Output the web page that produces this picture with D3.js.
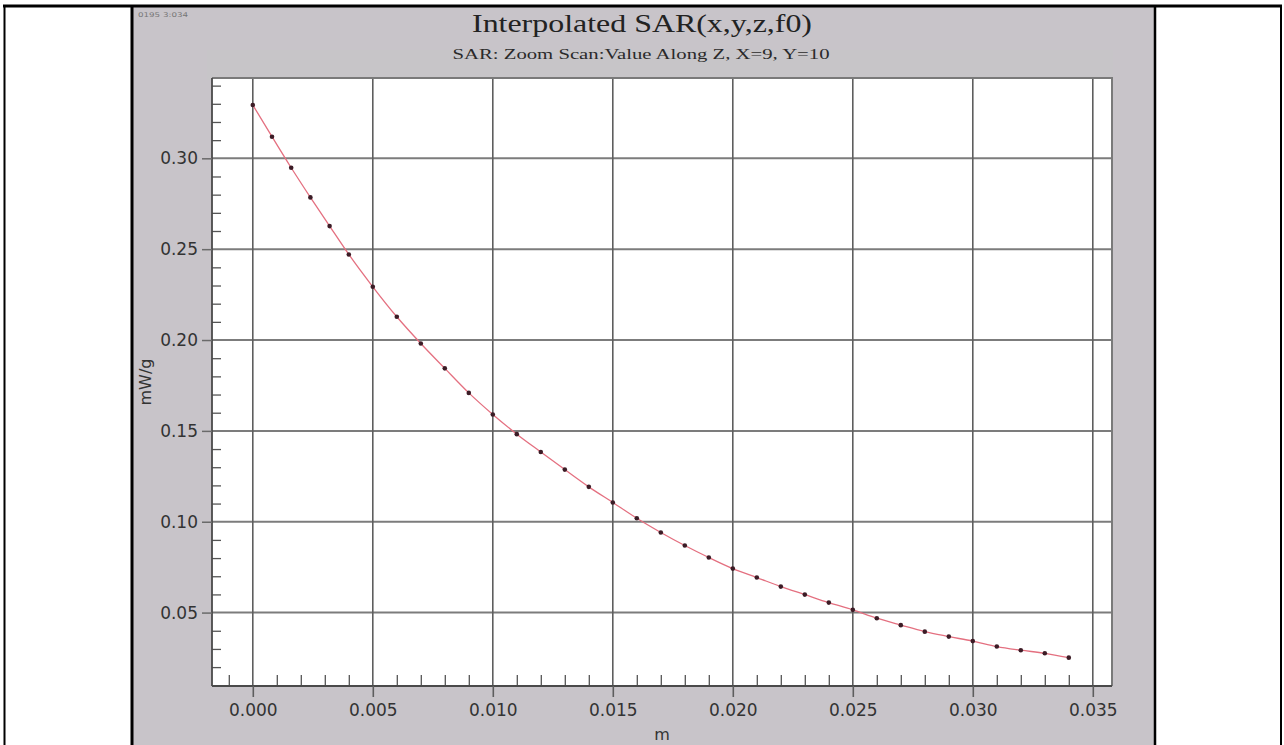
<!DOCTYPE html>
<html>
<head>
<meta charset="utf-8">
<script src="https://cdn.jsdelivr.net/npm/d3@7/dist/d3.min.js"></script>
<style>
  html, body { margin: 0; padding: 0; background: #ffffff; }
  svg { display: block; }
</style>
</head>
<body>
<svg id="chart" width="1284" height="745"></svg>
<script>
// Distance from the phantom surface (m) and interpolated SAR (mW/g)
const depthM = [0, 0.0008, 0.0016, 0.0024, 0.0032, 0.004,
  0.005, 0.006, 0.007, 0.008, 0.009, 0.010, 0.011, 0.012, 0.013, 0.014,
  0.015, 0.016, 0.017, 0.018, 0.019, 0.020, 0.021, 0.022, 0.023, 0.024,
  0.025, 0.026, 0.027, 0.028, 0.029, 0.030, 0.031, 0.032, 0.033, 0.034];
const sarValues = [0.3293, 0.3119, 0.2948, 0.2785, 0.2627, 0.2471,
  0.2293, 0.2128, 0.1981, 0.1844, 0.1709, 0.1590, 0.1482, 0.1384, 0.1287, 0.1192,
  0.1106, 0.1019, 0.0941, 0.0869, 0.0803, 0.0742, 0.0693, 0.0643, 0.0599, 0.0555,
  0.0515, 0.0469, 0.0431, 0.0395, 0.0368, 0.0343, 0.0313, 0.0293, 0.0276, 0.0252];

const xMajorTicks = [0.000, 0.005, 0.010, 0.015, 0.020, 0.025, 0.030, 0.035];
const xTickLabels = ["0.000", "0.005", "0.010", "0.015", "0.020", "0.025", "0.030", "0.035"];
const yMajorTicks = [0.05, 0.10, 0.15, 0.20, 0.25, 0.30];
const yTickLabels = ["0.05", "0.10", "0.15", "0.20", "0.25", "0.30"];

const titleText = "Interpolated SAR(x,y,z,f0)";
const subtitleText = "SAR: Zoom Scan:Value Along Z, X=9, Y=10";
const stampText = "0195 3:034";
const xAxisTitle = "m";
const yAxisTitle = "mW/g";

const svg = d3.select("#chart");

// Page frame (table cells) and grey chart panel
svg.append("rect").attr("x", 133).attr("y", 6).attr("width", 1022).attr("height", 745)
  .attr("fill", "#c8c4c9");
svg.append("rect").attr("x", 207).attr("y", 50).attr("width", 906).attr("height", 30)
  .attr("fill", "#c7c5c8");

const frame = svg.append("g").attr("stroke", "#000").attr("fill", "none");
frame.append("line").attr("x1", 3).attr("x2", 1282).attr("y1", 6).attr("y2", 6).attr("stroke-width", 3);
frame.append("line").attr("x1", 4.5).attr("x2", 4.5).attr("y1", 5).attr("y2", 745).attr("stroke-width", 2);
frame.append("line").attr("x1", 132).attr("x2", 132).attr("y1", 5).attr("y2", 745).attr("stroke-width", 3);
frame.append("line").attr("x1", 1155).attr("x2", 1155).attr("y1", 5).attr("y2", 745).attr("stroke-width", 2.5);
frame.append("line").attr("x1", 1281).attr("x2", 1281).attr("y1", 5).attr("y2", 745).attr("stroke-width", 2);

// Plot area
const plotLeft = 212, plotRight = 1112, plotTop = 78, plotBottom = 686;
const x = d3.scaleLinear().domain([-0.0017, 0.0358]).range([plotLeft, plotRight]);
const y = d3.scaleLinear().domain([0.0096, 0.3442]).range([plotBottom, plotTop]);

svg.append("rect").attr("x", plotLeft).attr("y", plotTop)
  .attr("width", plotRight - plotLeft).attr("height", plotBottom - plotTop)
  .attr("fill", "#ffffff");

// Grid
svg.append("g").selectAll("line").data(yMajorTicks).join("line")
  .attr("x1", plotLeft).attr("x2", plotRight)
  .attr("y1", d => y(d)).attr("y2", d => y(d))
  .attr("stroke", "#7c7c7c").attr("stroke-width", 2);
svg.append("g").selectAll("line").data(xMajorTicks).join("line")
  .attr("x1", d => x(d)).attr("x2", d => x(d))
  .attr("y1", plotTop).attr("y2", plotBottom)
  .attr("stroke", "#5e5e5e").attr("stroke-width", 1.6);

// Plot border (top and right)
svg.append("path")
  .attr("d", `M${plotLeft},${plotTop}H${plotRight}V${plotBottom}`)
  .attr("fill", "none").attr("stroke", "#7a7a7a").attr("stroke-width", 2);

// Minor ticks, pointing into the plot
const xMinor = d3.range(-1, 36).map(i => i / 1000).filter(v => Math.round(v * 1000) % 5 !== 0);
const yMinor = d3.range(2, 35).map(i => i / 100).filter(v => Math.round(v * 100) % 5 !== 0);

svg.append("g").attr("transform", `translate(0,${plotBottom})`)
  .call(d3.axisBottom(x).tickValues(xMinor).tickSize(-11).tickFormat(""))
  .call(g => g.select(".domain").remove())
  .call(g => g.selectAll("line").attr("stroke", "#555").attr("stroke-width", 1.3));
svg.append("g").attr("transform", `translate(${plotLeft},0)`)
  .call(d3.axisLeft(y).tickValues(yMinor).tickSize(-9).tickFormat(""))
  .call(g => g.select(".domain").remove())
  .call(g => g.selectAll("line").attr("stroke", "#555").attr("stroke-width", 1.3));

// Major axes with labels
const labelFont = "'DejaVu Sans', Verdana, sans-serif";
svg.append("g").attr("transform", `translate(0,${plotBottom})`)
  .call(d3.axisBottom(x).tickValues(xMajorTicks).tickSize(11).tickPadding(7)
    .tickFormat((d, i) => xTickLabels[i]))
  .call(g => g.select(".domain").attr("d", `M${plotLeft},0H${plotRight}`).attr("stroke", "#4a4a4a").attr("stroke-width", 1.8))
  .call(g => g.selectAll(".tick line").attr("stroke", "#5e5e5e").attr("stroke-width", 1.6))
  .call(g => g.selectAll("text").attr("font-family", labelFont).attr("font-size", 17).attr("fill", "#333"));
svg.append("g").attr("transform", `translate(${plotLeft},0)`)
  .call(d3.axisLeft(y).tickValues(yMajorTicks).tickSize(10).tickPadding(4)
    .tickFormat((d, i) => yTickLabels[i]))
  .call(g => g.select(".domain").attr("d", `M0,${plotTop}V${plotBottom}`).attr("stroke", "#4a4a4a").attr("stroke-width", 1.8))
  .call(g => g.selectAll(".tick line").attr("stroke", "#6a6a6a").attr("stroke-width", 1.5))
  .call(g => g.selectAll("text").attr("font-family", labelFont).attr("font-size", 17).attr("fill", "#333"));

// Data curve and measured points
const pts = depthM.map((d, i) => [d, sarValues[i]]);
svg.append("path").datum(pts)
  .attr("d", d3.line().x(d => x(d[0])).y(d => y(d[1])).curve(d3.curveMonotoneX))
  .attr("fill", "none").attr("stroke", "#e47080").attr("stroke-width", 1.3);
svg.append("g").selectAll("circle").data(pts).join("circle")
  .attr("cx", d => x(d[0])).attr("cy", d => y(d[1])).attr("r", 2.3)
  .attr("fill", "#3c1c26");

// Titles
const serif = "'Liberation Serif', 'Times New Roman', serif";
svg.append("text").attr("x", 642).attr("y", 32).attr("text-anchor", "middle")
  .attr("font-family", serif).attr("font-size", 25).attr("fill", "#222")
  .attr("textLength", 340).attr("lengthAdjust", "spacingAndGlyphs").text(titleText);
svg.append("text").attr("x", 641).attr("y", 59).attr("text-anchor", "middle")
  .attr("font-family", serif).attr("font-size", 15).attr("fill", "#2a2a2a")
  .attr("textLength", 377).attr("lengthAdjust", "spacingAndGlyphs").text(subtitleText);
svg.append("text").attr("x", 138).attr("y", 17)
  .attr("font-family", labelFont).attr("font-size", 6.5).attr("fill", "#777")
  .attr("textLength", 50).attr("lengthAdjust", "spacingAndGlyphs").text(stampText);

// Axis titles
svg.append("text").attr("x", 662).attr("y", 740).attr("text-anchor", "middle")
  .attr("font-family", labelFont).attr("font-size", 16).attr("fill", "#333").text(xAxisTitle);
svg.append("text").attr("transform", "translate(151,382) rotate(-90)").attr("text-anchor", "middle")
  .attr("font-family", labelFont).attr("font-size", 16).attr("fill", "#333").text(yAxisTitle);
</script>
</body>
</html>
